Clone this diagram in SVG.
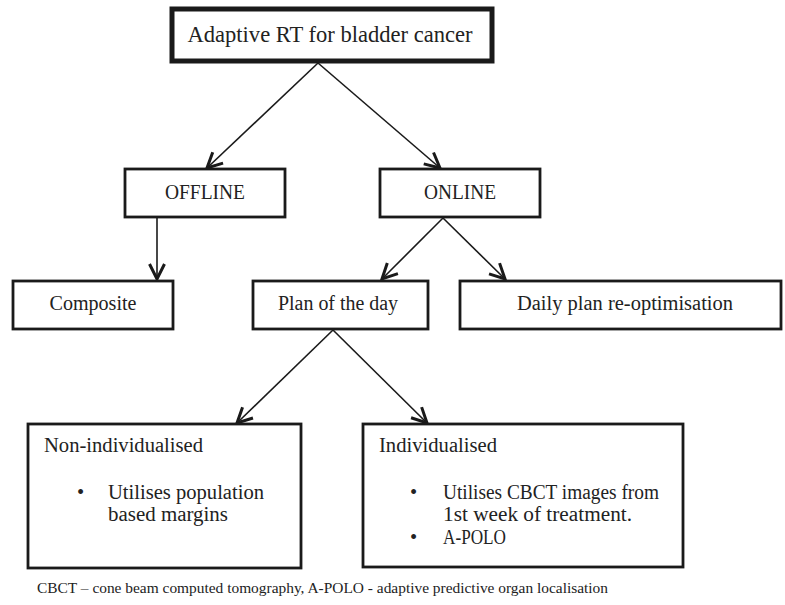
<svg xmlns="http://www.w3.org/2000/svg" width="785" height="605" viewBox="0 0 785 605">
<defs>
<marker id="ah" viewBox="0 0 22 22" refX="20" refY="11" markerWidth="22" markerHeight="22" markerUnits="userSpaceOnUse" orient="auto">
<path d="M5,3.5 L20,11 L5,18.5" fill="none" stroke="#1a1a1a" stroke-width="3" stroke-linejoin="miter"/>
</marker>
<style>
.box{fill:#fff;stroke:#1a1a1a;stroke-width:2.8}
.top{fill:#fff;stroke:#1a1a1a;stroke-width:5}
.t{font-family:"Liberation Serif","DejaVu Serif",serif;fill:#222;font-size:20.5px}
.c{text-anchor:middle}
.conn line{stroke:#1a1a1a;stroke-width:1.6;marker-end:url(#ah)}
</style>
</defs>
<rect width="785" height="605" fill="#fff"/>
<g class="conn" id="connectors">
<line x1="318" y1="63" x2="207" y2="168"/>
<line x1="318" y1="63" x2="440" y2="168"/>
<line x1="157" y1="218" x2="157" y2="279"/>
<line x1="443" y1="218" x2="382" y2="279"/>
<line x1="443" y1="218" x2="505" y2="279"/>
<line x1="333" y1="330" x2="237" y2="423"/>
<line x1="333" y1="330" x2="427" y2="423"/>
</g>
<g id="root"><rect class="top" x="172" y="9" width="320" height="52"/><text class="t c" x="330" y="42" style="font-size:24px" textLength="285" lengthAdjust="spacingAndGlyphs">Adaptive RT for bladder cancer</text></g>
<g id="offline"><rect class="box" x="125" y="169" width="160" height="48"/><text class="t c" x="205" y="199" textLength="80" lengthAdjust="spacingAndGlyphs">OFFLINE</text></g>
<g id="online"><rect class="box" x="380" y="169" width="160" height="48"/><text class="t c" x="460" y="199" textLength="72" lengthAdjust="spacingAndGlyphs">ONLINE</text></g>
<g id="composite"><rect class="box" x="13" y="281" width="160" height="48"/><text class="t c" x="93" y="310" textLength="87" lengthAdjust="spacingAndGlyphs">Composite</text></g>
<g id="plan"><rect class="box" x="253" y="281" width="175" height="48"/><text class="t c" x="338" y="310" textLength="120" lengthAdjust="spacingAndGlyphs">Plan of the day</text></g>
<g id="daily"><rect class="box" x="460" y="281" width="321" height="48"/><text class="t c" x="625" y="310" textLength="216" lengthAdjust="spacingAndGlyphs">Daily plan re-optimisation</text></g>
<g id="nonind"><rect class="box" x="28" y="424" width="273" height="144"/>
<text class="t" x="44" y="452" textLength="159" lengthAdjust="spacingAndGlyphs">Non-individualised</text>
<text class="t" x="77" y="499">•</text>
<text class="t" x="108" y="499" textLength="156" lengthAdjust="spacingAndGlyphs">Utilises population</text>
<text class="t" x="108" y="521" textLength="120" lengthAdjust="spacingAndGlyphs">based margins</text>
</g>
<g id="ind"><rect class="box" x="363" y="424" width="320" height="143"/>
<text class="t" x="379" y="452" textLength="118" lengthAdjust="spacingAndGlyphs">Individualised</text>
<text class="t" x="410" y="499">•</text>
<text class="t" x="443" y="499" textLength="216" lengthAdjust="spacingAndGlyphs">Utilises CBCT images from</text>
<text class="t" x="443" y="521" textLength="189" lengthAdjust="spacingAndGlyphs">1st week of treatment.</text>
<text class="t" x="410" y="544">•</text>
<text class="t" x="443" y="544" textLength="63" lengthAdjust="spacingAndGlyphs">A-POLO</text>
</g>
<text class="t" x="37" y="593" style="font-size:15.5px" textLength="571" lengthAdjust="spacingAndGlyphs">CBCT – cone beam computed tomography, A-POLO - adaptive predictive organ localisation</text>
</svg>
